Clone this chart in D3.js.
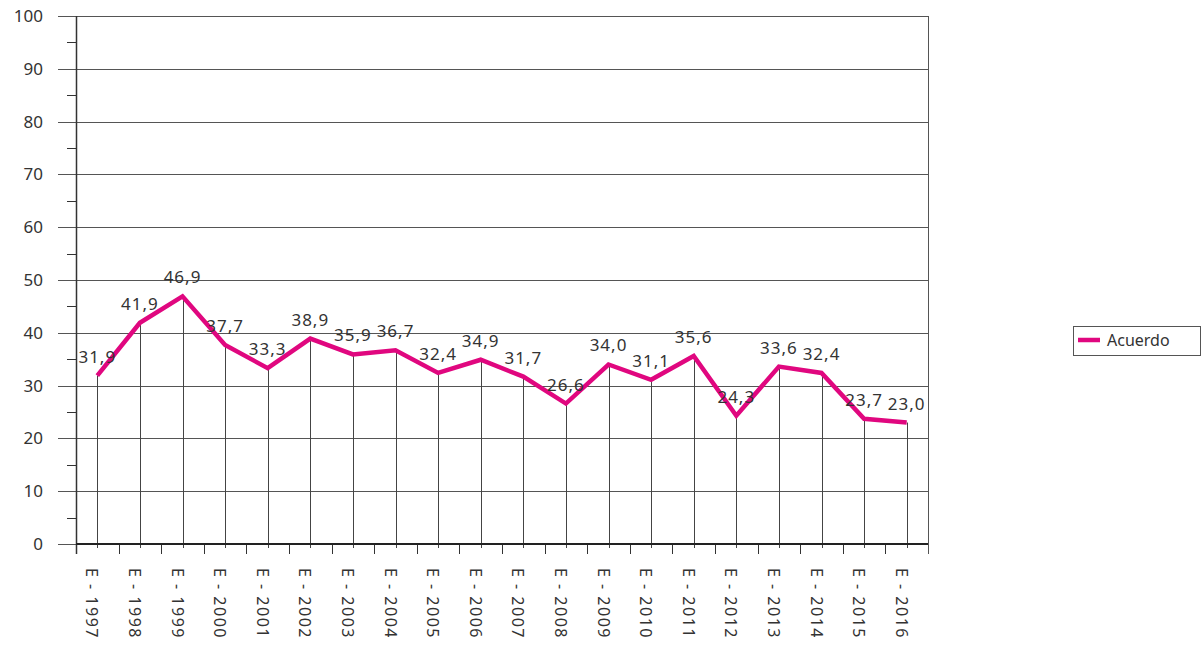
<!DOCTYPE html>
<html>
<head>
<meta charset="utf-8">
<script src="https://cdn.jsdelivr.net/npm/d3@7"></script>
<style>
  body { margin: 0; background: #fff; }
  text { font-family: "Noto Sans", "Liberation Sans", sans-serif; fill: #333; }
</style>
</head>
<body>
<div id="chart"></div>
<script>
var years = d3.range(1997, 2017);
var labels = years.map(function (y) { return "E - " + y; });
var acuerdo = [31.9, 41.9, 46.9, 37.7, 33.3, 38.9, 35.9, 36.7, 32.4, 34.9, 31.7, 26.6, 34.0, 31.1, 35.6, 24.3, 33.6, 32.4, 23.7, 23.0];
var yTicks = [0, 10, 20, 30, 40, 50, 60, 70, 80, 90, 100];
var seriesName = "Acuerdo";
var lineColor = "#e0077f";

var width = 1201, height = 646;
var plotL = 76, plotR = 928, plotT = 16, plotB = 544;

var svg = d3.select("#chart").append("svg")
  .attr("width", width).attr("height", height);

var x = d3.scaleBand().domain(labels).range([plotL, plotR]);
var y = d3.scaleLinear().domain([0, 100]).range([plotB, plotT]);
var cx = function (i) { return x(labels[i]) + x.bandwidth() / 2; };

// horizontal gridlines + left major ticks
svg.append("g").selectAll("line").data(yTicks).enter().append("line")
  .attr("x1", plotL - 18).attr("x2", plotR)
  .attr("y1", function (d) { return Math.round(y(d)) + 0.5; })
  .attr("y2", function (d) { return Math.round(y(d)) + 0.5; })
  .attr("stroke", "#555").attr("stroke-width", 1);

// minor ticks
svg.append("g").selectAll("line").data(d3.range(5, 100, 10)).enter().append("line")
  .attr("x1", plotL - 9).attr("x2", plotL)
  .attr("y1", function (d) { return Math.round(y(d)) + 0.5; })
  .attr("y2", function (d) { return Math.round(y(d)) + 0.5; })
  .attr("stroke", "#333");

// y labels
svg.append("g").selectAll("text").data(yTicks).enter().append("text")
  .attr("x", 43).attr("y", function (d) { return y(d) + 6; })
  .attr("text-anchor", "end").attr("font-size", 17)
  .text(function (d) { return d; });

// left axis + right border
svg.append("line").attr("x1", plotL + 0.5).attr("x2", plotL + 0.5).attr("y1", plotT).attr("y2", plotB + 10)
  .attr("stroke", "#333").attr("stroke-width", 1.5);
svg.append("line").attr("x1", plotR + 0.5).attr("x2", plotR + 0.5).attr("y1", plotT).attr("y2", plotB + 10)
  .attr("stroke", "#555");

// category ticks at band boundaries
svg.append("g").selectAll("line").data(labels.slice(1)).enter().append("line")
  .attr("x1", function (d) { return Math.round(x(d)) + 0.5; })
  .attr("x2", function (d) { return Math.round(x(d)) + 0.5; })
  .attr("y1", plotB).attr("y2", plotB + 10)
  .attr("stroke", "#333");

// drop lines
svg.append("g").selectAll("line").data(acuerdo).enter().append("line")
  .attr("x1", function (d, i) { return Math.round(cx(i)) + 0.5; })
  .attr("x2", function (d, i) { return Math.round(cx(i)) + 0.5; })
  .attr("y1", function (d) { return y(d); }).attr("y2", plotB + 4)
  .attr("stroke", "#444");

// baseline
svg.append("line").attr("x1", plotL).attr("x2", plotR).attr("y1", plotB).attr("y2", plotB)
  .attr("stroke", "#222").attr("stroke-width", 2);

// x labels rotated
svg.append("g").selectAll("text").data(labels).enter().append("text")
  .attr("transform", function (d, i) { return "translate(" + (cx(i) - 11) + "," + 568 + ") rotate(90)"; })
  .attr("font-size", 16).attr("letter-spacing", 1.5)
  .text(function (d) { return d; });

// series line
var line = d3.line().x(function (d, i) { return cx(i); }).y(function (d) { return y(d); });
svg.append("path").datum(acuerdo).attr("d", line)
  .attr("fill", "none").attr("stroke", lineColor).attr("stroke-width", 4.5)
  .attr("stroke-linejoin", "miter");

// value labels
svg.append("g").selectAll("text").data(acuerdo).enter().append("text")
  .attr("x", function (d, i) { return cx(i); })
  .attr("y", function (d) { return y(d) - 13; })
  .attr("text-anchor", "middle").attr("font-size", 17).attr("letter-spacing", 1)
  .text(function (d) { return d3.format(".1f")(d).replace(".", ","); });

// legend
var lg = svg.append("g");
lg.append("rect").attr("x", 1073.5).attr("y", 326.5).attr("width", 127).attr("height", 29)
  .attr("fill", "#fff").attr("stroke", "#555");
lg.append("line").attr("x1", 1078).attr("x2", 1100).attr("y1", 340).attr("y2", 340)
  .attr("stroke", lineColor).attr("stroke-width", 4.5);
lg.append("text").attr("x", 1107).attr("y", 346).attr("font-size", 16).text(seriesName);
</script>
</body>
</html>
